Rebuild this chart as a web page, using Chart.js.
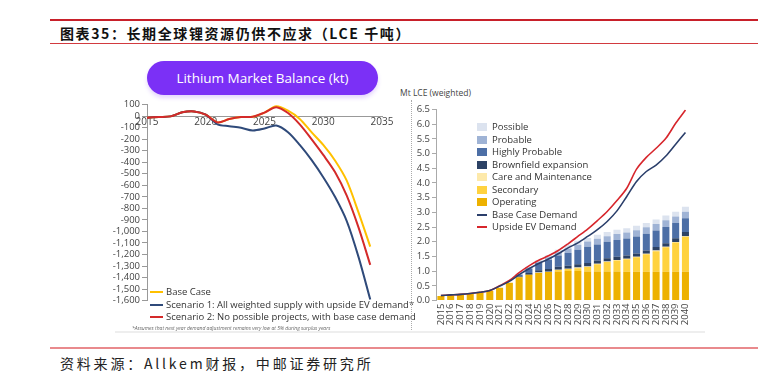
<!DOCTYPE html>
<html>
<head>
<meta charset="utf-8">
<script src="https://cdn.jsdelivr.net/npm/chart.js@4.4.1/dist/chart.umd.min.js"></script>
<style>
  body { margin: 0; background: #fff; width: 774px; height: 373px; position: relative; overflow: hidden; font-family: "Open Sans", sans-serif; }
  .abs { position: absolute; }
  .title { left: 60px; top: 24px; font-family: "Noto Sans CJK SC", sans-serif; font-weight: bold; font-size: 14px; letter-spacing: 1.6px; color: #111; line-height: 18px; white-space: nowrap; }
  .foot { left: 60px; top: 354px; font-family: "Noto Sans CJK SC", sans-serif; font-size: 14px; letter-spacing: 2.8px; color: #222; line-height: 18px; white-space: nowrap; }
  .pill { left: 147px; top: 61px; width: 231px; height: 34px; border-radius: 17px; background: #7b30f6; color: #fff; font-size: 13.5px; line-height: 34px; text-align: center; box-shadow: 0 3px 4px rgba(123,48,246,0.2); }
  .leg { font-size: 9.5px; color: #333; white-space: nowrap; }
  .leg div { position: absolute; left: 0; height: 12px; line-height: 12px; }
  .leg span.mk { position: absolute; left: 0; }
  .leg span.tx { position: absolute; }
</style>
</head>
<body>
<div class="abs" style="left:50px;top:19px;width:708px;height:2px;background:#c8202a"></div>
<div class="abs title">图表35：长期全球锂资源仍供不应求（LCE 千吨）</div>
<div class="abs" style="left:50px;top:43px;width:708px;height:1px;background:#d23a3f"></div>

<div class="abs pill">Lithium Market Balance (kt)</div>
<canvas id="left" class="abs" style="left:88px;top:95px" width="310" height="215"></canvas>
<div id="legLeft" class="abs leg" style="left:150px;top:286px;width:260px;height:40px"></div>
<div class="abs" style="left:132px;top:325px;font-size:5px;font-style:italic;color:#666;white-space:nowrap">*Assumes that next year demand adjustment remains very low at 5% during surplus years</div>

<div class="abs" style="left:411px;top:100px;height:230px;border-left:1px dotted #aaa"></div>
<div class="abs" style="left:400px;top:87px;font-size:8.5px;color:#444;white-space:nowrap">Mt LCE (weighted)</div>
<div class="abs" style="left:115px;top:331px;width:590px;height:2px;background:#eeeeee"></div>
<canvas id="right" class="abs" style="left:395px;top:95px" width="305" height="240"></canvas>
<div id="legRight" class="abs leg" style="left:477px;top:121px;width:120px;height:120px"></div>

<div class="abs" style="left:50px;top:347px;width:708px;height:2px;background:#e98a8d"></div>
<div class="abs foot">资料来源：Allkem财报，中邮证券研究所</div>

<script>
// left chart: market balance (kt)
let balanceYears = [2015, 2016, 2017, 2018, 2019, 2020, 2021, 2022, 2023, 2024, 2025, 2026, 2027, 2028, 2029, 2030, 2031, 2032, 2033, 2034];
let baseCase = [-14, -8, -3, 32, 40, 12, -55, -26, -9, -6, 30, 85, 46, -25, -140, -250, -385, -560, -835, -1132];
let scenario1 = [-14, -8, -3, 32, 40, 12, -72, -88, -102, -125, -108, -82, -140, -250, -380, -530, -700, -910, -1220, -1590];
let scenario2 = [-14, -8, -3, 32, 40, 12, -55, -26, -9, -6, 30, 76, 26, -72, -200, -337, -485, -690, -965, -1290];
let leftNames = ["Base Case", "Scenario 1: All weighted supply with upside EV demand*", "Scenario 2: No possible projects, with base case demand"];
let leftColors = ["#ffc000", "#2f4a7a", "#d42a2a"];

// right chart: supply vs demand (Mt LCE)
let supplyYears = ["2015", "2016", "2017", "2018", "2019", "2020", "2021", "2022", "2023", "2024", "2025", "2026", "2027",
  "2028", "2029", "2030", "2031", "2032", "2033", "2034", "2035", "2036", "2037", "2038", "2039", "2040"];
let operating = [0.15, 0.18, 0.21, 0.23, 0.27, 0.33, 0.43, 0.60, 0.79, 0.88, 0.94, 0.97, 0.99, 1.00, 1.00, 0.99, 0.99, 0.99, 0.99, 0.98, 0.98, 0.98, 0.98, 0.98, 0.98, 0.98];
let secondary = [0, 0, 0, 0, 0, 0, 0, 0, 0, 0, 0, 0, 0.05, 0.07, 0.10, 0.15, 0.24, 0.32, 0.37, 0.42, 0.49, 0.59, 0.70, 0.83, 0.99, 1.19];
let careMaint = [0, 0, 0, 0, 0, 0, 0, 0, 0, 0, 0.01, 0.01, 0.01, 0.01, 0.02, 0.02, 0.02, 0.02, 0.02, 0.02, 0.02, 0.02, 0.02, 0.02, 0.02, 0.02];
let brownfield = [0, 0, 0, 0, 0, 0, 0, 0, 0.03, 0.06, 0.08, 0.09, 0.10, 0.10, 0.11, 0.12, 0.11, 0.11, 0.11, 0.11, 0.11, 0.11, 0.12, 0.12, 0.13, 0.14];
let highlyProb = [0, 0, 0, 0, 0, 0, 0, 0, 0.06, 0.15, 0.25, 0.32, 0.38, 0.44, 0.50, 0.55, 0.55, 0.56, 0.57, 0.58, 0.58, 0.57, 0.56, 0.55, 0.52, 0.47];
let probable = [0, 0, 0, 0, 0, 0, 0, 0, 0.01, 0.03, 0.05, 0.08, 0.11, 0.15, 0.17, 0.18, 0.19, 0.19, 0.20, 0.20, 0.21, 0.22, 0.22, 0.23, 0.22, 0.22];
let possible = [0, 0, 0, 0, 0, 0, 0, 0, 0.01, 0.03, 0.05, 0.06, 0.09, 0.13, 0.13, 0.12, 0.14, 0.14, 0.15, 0.15, 0.15, 0.15, 0.16, 0.16, 0.16, 0.17];
let baseDemand = [0.17, 0.19, 0.21, 0.24, 0.28, 0.34, 0.49, 0.65, 0.88, 1.08, 1.26, 1.41, 1.59, 1.79, 1.96, 2.18, 2.41, 2.69, 3.05, 3.54, 4.05, 4.39, 4.61, 4.92, 5.32, 5.72];
let upsideDemand = [0.17, 0.19, 0.21, 0.24, 0.28, 0.34, 0.50, 0.68, 0.95, 1.18, 1.37, 1.52, 1.70, 1.93, 2.18, 2.43, 2.72, 3.03, 3.40, 3.82, 4.47, 4.87, 5.18, 5.52, 6.03, 6.48];

let barNames = ["Operating", "Secondary", "Care and Maintenance", "Brownfield expansion", "Highly Probable", "Probable", "Possible"];
let barColors = ["#edb100", "#ffd23f", "#fde9aa", "#2c4265", "#4d6fa6", "#9fb3d5", "#dce3ef"];
let barValues = [operating, secondary, careMaint, brownfield, highlyProb, probable, possible];
let lineNames = ["Base Case Demand", "Upside EV Demand"];
let lineColors = ["#2b3f6b", "#d7262c"];

const tickFont = { family: "Open Sans", size: 9.5 };

function points(vals) {
    return vals.map((v, i) => ({ x: balanceYears[i], y: v }));
}

new Chart(document.getElementById("left"), {
    type: "line",
    data: {
        datasets: [
            { label: leftNames[2], data: points(scenario2), borderColor: leftColors[2], order: 0 },
            { label: leftNames[1], data: points(scenario1), borderColor: leftColors[1], order: 1 },
            { label: leftNames[0], data: points(baseCase), borderColor: leftColors[0], order: 2 }
        ]
    },
    options: {
        responsive: false,
        animation: false,
        devicePixelRatio: 1,
        layout: { padding: { top: 9.5, right: 16, bottom: 9.3, left: 0 } },
        elements: { point: { radius: 0 }, line: { borderWidth: 2, tension: 0.3 } },
        plugins: { legend: { display: false }, tooltip: { enabled: false } },
        scales: {
            x: {
                type: "linear",
                position: { y: 0 },
                min: 2015, max: 2035,
                ticks: { stepSize: 5, padding: 0, color: "#444", font: { family: "Open Sans", size: 10 }, callback: v => String(v) },
                grid: { drawOnChartArea: false, drawTicks: false },
                border: { color: "#999" }
            },
            y: {
                min: -1600, max: 100,
                afterFit: s => { s.width = 59; },
                ticks: { stepSize: 100, autoSkip: false, padding: 2, color: "#444", font: tickFont,
                    callback: v => v.toLocaleString("en-US") },
                grid: { drawOnChartArea: false, tickLength: 5, color: "#999" },
                border: { color: "#999" }
            }
        }
    }
});

let rightSets = barNames.map((name, i) => ({
    type: "bar", label: name, data: barValues[i], backgroundColor: barColors[i], order: 1
}));
lineNames.forEach((name, i) => {
    rightSets.push({
        type: "line", label: name, data: i === 0 ? baseDemand : upsideDemand, borderColor: lineColors[i],
        borderWidth: 1.6, pointRadius: 0, tension: 0.3, stack: "d" + i, order: 0
    });
});

new Chart(document.getElementById("right"), {
    data: { labels: supplyYears, datasets: rightSets },
    options: {
        responsive: false,
        animation: false,
        devicePixelRatio: 1,
        layout: { padding: { top: 14.5, right: 8, bottom: 0, left: 0 } },
        datasets: { bar: { categoryPercentage: 1, barPercentage: 0.72 } },
        plugins: { legend: { display: false }, tooltip: { enabled: false } },
        scales: {
            x: {
                stacked: true,
                afterFit: s => { s.height = 34.5; },
                ticks: { autoSkip: false, minRotation: 90, maxRotation: 90, padding: 3, color: "#444", font: { family: "Open Sans", size: 9.5 } },
                grid: { display: false, drawTicks: false },
                border: { display: false }
            },
            y: {
                stacked: true,
                min: 0, max: 6.5,
                afterFit: s => { s.width = 41; },
                ticks: { stepSize: 0.5, autoSkip: false, padding: 2, color: "#444", font: tickFont, callback: v => v.toFixed(1) },
                grid: { drawOnChartArea: false, tickLength: 4, color: "#aaa" },
                border: { color: "#aaa" }
            }
        }
    }
});

// legends as real text
let legLeft = document.getElementById("legLeft");
[0, 1, 2].forEach(i => {
    let row = document.createElement("div");
    row.style.top = (i * 12.5) + "px";
    row.innerHTML = `<span class="mk" style="top:5px;width:13px;height:2px;background:${leftColors[i]}"></span><span class="tx" style="left:16px">${leftNames[i]}</span>`;
    legLeft.appendChild(row);
});

let legRight = document.getElementById("legRight");
let rightItems = [];
for (let i = barNames.length - 1; i >= 0; i--) rightItems.push({ name: barNames[i], color: barColors[i], box: true });
lineNames.forEach((n, i) => rightItems.push({ name: n, color: lineColors[i], box: false }));
rightItems.forEach((it, i) => {
    let row = document.createElement("div");
    row.style.top = (i * 12.5) + "px";
    let mk = it.box
        ? `<span class="mk" style="top:2px;width:10px;height:8px;background:${it.color}"></span>`
        : `<span class="mk" style="top:5px;width:10px;height:2px;background:${it.color}"></span>`;
    row.innerHTML = mk + `<span class="tx" style="left:15px">${it.name}</span>`;
    legRight.appendChild(row);
});
</script>
</body>
</html>
